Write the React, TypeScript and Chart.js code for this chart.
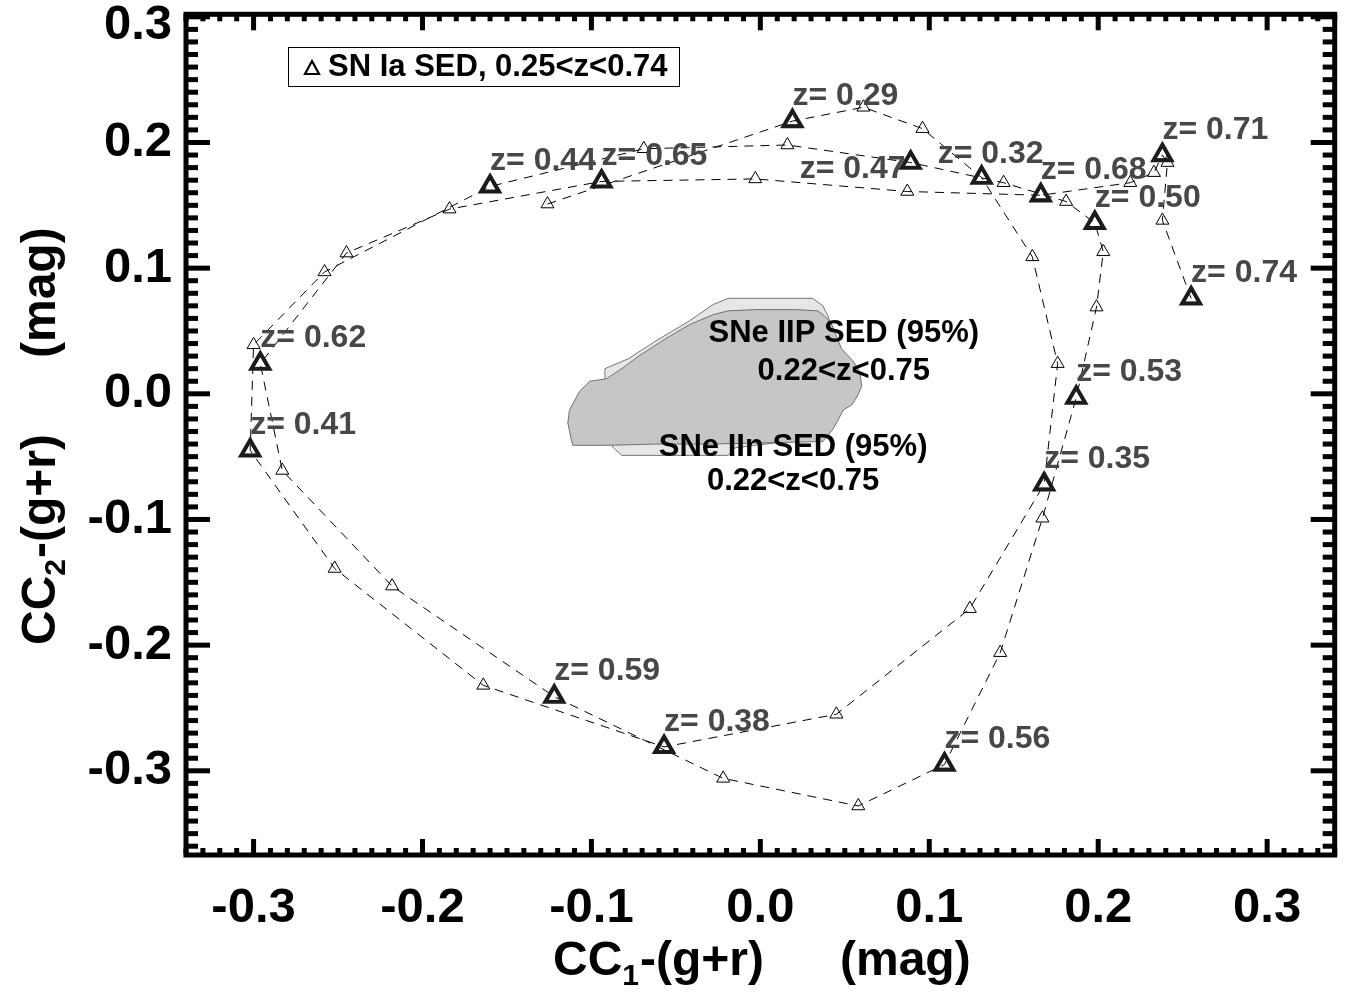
import React, { useEffect, useRef } from "react";
import { Chart, registerables } from "chart.js";

Chart.register(...registerables);

// ---- data ----
const zValues = [
  0.28, 0.29, 0.30, 0.31, 0.32, 0.33, 0.34, 0.35, 0.36, 0.37, 0.38, 0.39, 0.40,
  0.41, 0.42, 0.43, 0.44, 0.45, 0.46, 0.47, 0.48, 0.49, 0.50, 0.51, 0.52, 0.53,
  0.54, 0.55, 0.56, 0.57, 0.58, 0.59, 0.60, 0.61, 0.62, 0.63, 0.64, 0.65, 0.66,
  0.67, 0.68, 0.69, 0.70, 0.71, 0.72, 0.73, 0.74,
];
const cc1Values = [
  -0.126, 0.019, 0.061, 0.096, 0.131, 0.161, 0.176, 0.168, 0.124, 0.045, -0.057,
  -0.164, -0.252, -0.302, -0.300, -0.258, -0.160, -0.069, 0.016, 0.089, 0.144,
  0.181, 0.198, 0.203, 0.199, 0.187, 0.167, 0.142, 0.109, 0.058, -0.022, -0.122,
  -0.218, -0.283, -0.296, -0.245, -0.184, -0.094, -0.003, 0.087, 0.166, 0.219,
  0.233, 0.238, 0.241, 0.238, 0.255,
];
const cc2Values = [
  0.151, 0.217, 0.228, 0.211, 0.172, 0.109, 0.024, -0.072, -0.171, -0.255, -0.281,
  -0.232, -0.139, -0.045, 0.039, 0.097, 0.165, 0.195, 0.198, 0.184, 0.168, 0.153,
  0.136, 0.113, 0.069, -0.003, -0.099, -0.206, -0.295, -0.328, -0.306, -0.241,
  -0.153, -0.061, 0.024, 0.112, 0.147, 0.169, 0.171, 0.161, 0.158, 0.168, 0.176,
  0.190, 0.184, 0.138, 0.076,
];
const labeledZ = [
  0.29, 0.32, 0.35, 0.38, 0.41, 0.44, 0.47, 0.5, 0.53, 0.56, 0.59, 0.62, 0.65,
  0.68, 0.71, 0.74,
];

// 95% contour of SNe IIP (dark) and SNe IIn (light)
const iipX = [
  -0.113, -0.114, -0.112, -0.111, -0.091, -0.062, -0.031, 0.003, 0.037, 0.039,
  0.043, 0.046, 0.049, 0.054, 0.057, 0.06, 0.059, 0.055, 0.048, 0.045, 0.042,
  0.038, 0.034, 0.021, -0.003, -0.019, -0.028, -0.042, -0.056, -0.072, -0.081,
  -0.091, -0.101, -0.107,
];
const iipY = [
  -0.013, -0.023, -0.036, -0.041, -0.041, -0.04, -0.04, -0.039, -0.038, -0.035,
  -0.028, -0.021, -0.013, -0.009, -0.003, 0.006, 0.017, 0.026, 0.036, 0.046,
  0.056, 0.062, 0.066, 0.067, 0.067, 0.066, 0.063, 0.055, 0.044, 0.03, 0.021,
  0.012, 0.01, 0.002,
];
const iinX = [
  -0.092, -0.092, -0.078, -0.062, -0.042, -0.028, -0.019, 0.031, 0.037, 0.04,
  0.041, 0.047, 0.044, 0.021, -0.015, -0.019, -0.082, -0.087, -0.097, -0.097,
];
const iinY = [
  0.011, 0.02, 0.028, 0.042, 0.058, 0.071, 0.076, 0.076, 0.07, 0.062, 0.058,
  0.024, -0.007, -0.037, -0.043, -0.049, -0.049, -0.043, -0.023, 0.001,
];

const xTicks = [-0.3, -0.2, -0.1, 0.0, 0.1, 0.2, 0.3];
const yTicks = [-0.3, -0.2, -0.1, 0.0, 0.1, 0.2, 0.3];
const xRange = [-0.34, 0.34];
const yRange = [-0.367, 0.302];

const legendText = "SN Ia SED, 0.25<z<0.74";
const iipLabel = ["SNe IIP SED (95%)", "0.22<z<0.75"];
const iinLabel = ["SNe IIn SED (95%)", "0.22<z<0.75"];
const iipLabelPos = [0.0494, 0.048, 0.0181];
const iinLabelPos = [0.0194, -0.0425, -0.0701];

// label offsets (pixels) for the few z labels not placed above-right
const labelOffsets: Record<string, [number, number]> = {
  "0.32": [-44, -23],
  "0.47": [-111, 7],
};

const FONT = '"Liberation Sans", Arial, Helvetica, sans-serif';

const fmt = (v: number) => (Math.abs(v) < 1e-9 ? "0.0" : v.toFixed(1));

const decorPlugin = {
  id: "decor",
  beforeDatasetsDraw(chart: any) {
    const ctx = chart.ctx;
    const xs = chart.scales.x;
    const ys = chart.scales.y;
    const poly = (px: number[], py: number[], fill: string) => {
      ctx.save();
      ctx.beginPath();
      px.forEach((v, i) => {
        const X = xs.getPixelForValue(v);
        const Y = ys.getPixelForValue(py[i]);
        if (i === 0) ctx.moveTo(X, Y);
        else ctx.lineTo(X, Y);
      });
      ctx.closePath();
      ctx.fillStyle = fill;
      ctx.fill();
      ctx.strokeStyle = "#555";
      ctx.lineWidth = 0.8;
      ctx.stroke();
      ctx.restore();
    };
    poly(iinX, iinY, "#e6e6e6");
    poly(iipX, iipY, "#c6c6c6");
  },
  afterDatasetsDraw(chart: any) {
    const ctx = chart.ctx;
    const xs = chart.scales.x;
    const ys = chart.scales.y;
    ctx.save();
    // z labels
    ctx.font = `bold 32px ${FONT}`;
    ctx.fillStyle = "#474747";
    ctx.textAlign = "left";
    ctx.textBaseline = "middle";
    labeledZ.forEach((z) => {
      const i = zValues.findIndex((v) => Math.abs(v - z) < 1e-6);
      if (i < 0) return;
      const X = xs.getPixelForValue(cc1Values[i]);
      const Y = ys.getPixelForValue(cc2Values[i]);
      const key = z.toFixed(2);
      const off = labelOffsets[key] || [0, -25];
      ctx.fillText(`z= ${key}`, X + off[0], Y + off[1]);
    });
    // contour labels
    ctx.fillStyle = "#000";
    ctx.textAlign = "center";
    ctx.font = `bold 31px ${FONT}`;
    const cx1 = xs.getPixelForValue(iipLabelPos[0]);
    ctx.fillText(iipLabel[0], cx1, ys.getPixelForValue(iipLabelPos[1]));
    ctx.fillText(iipLabel[1], cx1, ys.getPixelForValue(iipLabelPos[2]));
    const cx2 = xs.getPixelForValue(iinLabelPos[0]);
    ctx.fillText(iinLabel[0], cx2, ys.getPixelForValue(iinLabelPos[1]));
    ctx.fillText(iinLabel[1], cx2, ys.getPixelForValue(iinLabelPos[2]));
    ctx.restore();
  },
  afterDraw(chart: any) {
    const ctx = chart.ctx;
    const xs = chart.scales.x;
    const ys = chart.scales.y;
    const a = chart.chartArea;
    ctx.save();
    // frame
    ctx.strokeStyle = "#000";
    ctx.lineWidth = 5;
    ctx.strokeRect(a.left, a.top, a.right - a.left, a.bottom - a.top);
    // ticks
    ctx.fillStyle = "#000";
    const tw = 5;
    const startX = Math.ceil(xRange[0] * 100 - 1e-6);
    const endX = Math.floor(xRange[1] * 100 + 1e-6);
    for (let k = startX; k <= endX; k++) {
      const v = k / 100;
      const major = k % 10 === 0;
      const X = xs.getPixelForValue(v);
      const len = major ? 16 : 7;
      ctx.fillRect(X - tw / 2, a.bottom - len, tw, len);
      ctx.fillRect(X - tw / 2, a.top, tw, len);
    }
    const startY = Math.ceil(yRange[0] * 100 - 1e-6);
    const endY = Math.floor(yRange[1] * 100 + 1e-6);
    for (let k = startY; k <= endY; k++) {
      const v = k / 100;
      const major = k % 10 === 0;
      const Y = ys.getPixelForValue(v);
      const len = major ? 24 : 12;
      ctx.fillRect(a.left, Y - tw / 2, len, tw);
      ctx.fillRect(a.right - len, Y - tw / 2, len, tw);
    }
    // tick labels
    ctx.font = `bold 49px ${FONT}`;
    ctx.textBaseline = "middle";
    ctx.textAlign = "center";
    xs.ticks.forEach((t: any) => {
      const X = xs.getPixelForValue(t.value);
      ctx.fillText(fmt(t.value), X, 908);
    });
    ctx.textAlign = "right";
    ys.ticks.forEach((t: any) => {
      const Y = ys.getPixelForValue(t.value);
      ctx.fillText(fmt(t.value), 172, Math.max(Y, 25));
    });
    // axis titles
    const drawTitle = (sub: string) => {
      ctx.textAlign = "left";
      ctx.textBaseline = "alphabetic";
      let x = 0;
      ctx.font = `bold 48px ${FONT}`;
      ctx.fillText("CC", x, 0);
      x += ctx.measureText("CC").width;
      ctx.font = `bold 30px ${FONT}`;
      ctx.fillText(sub, x, 10);
      x += ctx.measureText(sub).width + 1;
      ctx.font = `bold 48px ${FONT}`;
      ctx.fillText("-(g+r)", x, 0);
      ctx.fillText("(mag)", 287, 0);
    };
    ctx.save();
    ctx.translate(553, 975);
    drawTitle("1");
    ctx.restore();
    ctx.save();
    ctx.translate(55, 645);
    ctx.rotate(-Math.PI / 2);
    drawTitle("2");
    ctx.restore();
    // legend
    ctx.lineWidth = 1;
    ctx.strokeStyle = "#000";
    ctx.strokeRect(288.5, 47.5, 391, 39);
    ctx.lineWidth = 2.2;
    ctx.beginPath();
    ctx.moveTo(312, 61);
    ctx.lineTo(319, 74);
    ctx.lineTo(305, 74);
    ctx.closePath();
    ctx.stroke();
    ctx.font = `bold 31px ${FONT}`;
    ctx.textAlign = "left";
    ctx.textBaseline = "middle";
    ctx.fillStyle = "#000";
    ctx.fillText(legendText, 328, 67);
    ctx.restore();
  },
};

export default function App() {
  const canvasRef = useRef<HTMLCanvasElement | null>(null);

  useEffect(() => {
    const canvas = canvasRef.current;
    if (!canvas) return;
    const trackData = zValues.map((z, i) => ({ x: cc1Values[i], y: cc2Values[i] }));
    const boldData = labeledZ
      .map((z) => zValues.findIndex((v) => Math.abs(v - z) < 1e-6))
      .filter((i) => i >= 0)
      .map((i) => ({ x: cc1Values[i], y: cc2Values[i] }));

    const chart = new Chart(canvas, {
      type: "scatter",
      data: {
        datasets: [
          {
            label: "labeled z",
            data: boldData,
            showLine: false,
            pointStyle: "triangle",
            pointRadius: 10.5,
            pointBorderWidth: 3.8,
            pointBorderColor: "#1c1c1c",
            pointBackgroundColor: "rgba(255,255,255,0)",
            order: 0,
          },
          {
            label: "SN Ia SED",
            data: trackData,
            showLine: true,
            borderColor: "#000",
            borderWidth: 1,
            borderDash: [9, 7],
            pointStyle: "triangle",
            pointRadius: 7.5,
            pointBorderWidth: 1,
            pointBorderColor: "#000",
            pointBackgroundColor: "rgba(255,255,255,0)",
            order: 1,
          },
        ],
      },
      options: {
        responsive: false,
        animation: false,
        devicePixelRatio: 1,
        layout: { padding: { top: 7, right: 7, left: 0, bottom: 0 } },
        plugins: {
          legend: { display: false },
          tooltip: { enabled: false },
        },
        scales: {
          x: {
            type: "linear",
            min: xRange[0],
            max: xRange[1],
            grid: { display: false },
            border: { display: false },
            ticks: { display: false },
            afterBuildTicks: (s: any) => {
              s.ticks = xTicks.map((v) => ({ value: v }));
            },
            afterFit: (s: any) => {
              s.height = 138;
            },
          },
          y: {
            type: "linear",
            min: yRange[0],
            max: yRange[1],
            grid: { display: false },
            border: { display: false },
            ticks: { display: false },
            afterBuildTicks: (s: any) => {
              s.ticks = yTicks.map((v) => ({ value: v }));
            },
            afterFit: (s: any) => {
              s.width = 186;
            },
          },
        },
      } as any,
      plugins: [decorPlugin],
    });
    return () => chart.destroy();
  }, []);

  return (
    <canvas
      ref={canvasRef}
      width={1349}
      height={993}
      style={{ position: "absolute", left: 0, top: 0, width: 1349, height: 993 }}
    />
  );
}
